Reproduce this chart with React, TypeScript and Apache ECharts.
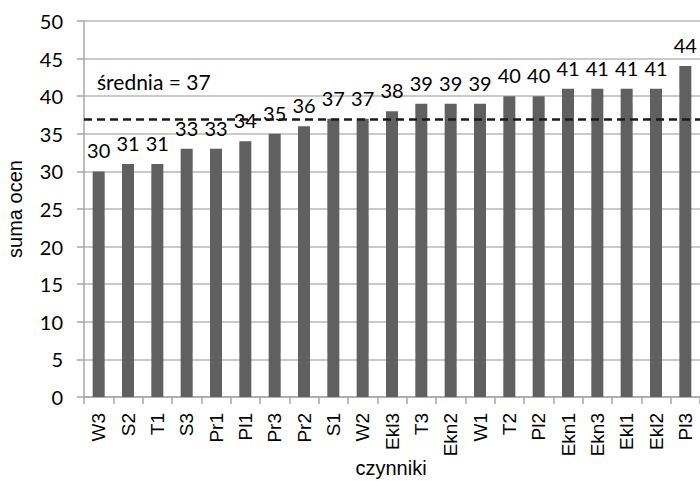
import React, { useEffect, useRef } from "react";
import * as echarts from "echarts";

const categories = ["W3", "S2", "T1", "S3", "Pr1", "Pl1", "Pr3", "Pr2", "S1", "W2", "Ekl3", "T3", "Ekn2", "W1", "T2", "Pl2", "Ekn1", "Ekn3", "Ekl1", "Ekl2", "Pl3"];
const values = [30, 31, 31, 33, 33, 34, 35, 36, 37, 37, 38, 39, 39, 39, 40, 40, 41, 41, 41, 41, 44];
const meanValue = 37;
const meanLabel = "średnia = 37";
const xAxisName = "czynniki";
const yAxisName = "suma ocen";

export default function App() {
  const ref = useRef<HTMLDivElement>(null);
  useEffect(() => {
    if (!ref.current) return;
    const chart = echarts.init(ref.current, null, { renderer: "svg" });
    chart.setOption({
      animation: false,
      backgroundColor: "#ffffff",
      grid: { left: 84, right: 0, top: 21, bottom: 84, containLabel: false, outerBoundsMode: "none" },
      graphic: [
        {
          type: "text",
          left: 97,
          top: 71,
          style: { text: meanLabel, font: "21px Lato", fill: "#000000" },
        },
        {
          type: "text",
          x: 391,
          y: 468,
          style: { text: xAxisName, font: "20px 'Liberation Sans'", fill: "#000000", align: "center", verticalAlign: "middle" },
        },
      ],
      xAxis: {
        type: "category",
        data: categories,
        axisLine: { lineStyle: { color: "#a6a6a6", width: 1.5 } },
        axisTick: { show: true, length: 7, lineStyle: { color: "#a6a6a6", width: 1.5 } },
        axisLabel: { rotate: 90, margin: 16, fontFamily: "Liberation Sans", fontSize: 19, color: "#000", interval: 0 },
      },
      yAxis: {
        type: "value",
        min: 0,
        max: 50,
        interval: 5,
        name: yAxisName,
        nameLocation: "middle",
        nameGap: 59,
        nameRotate: 90,
        nameTextStyle: { fontFamily: "Liberation Sans", fontSize: 20, color: "#000" },
        axisLine: { show: true, lineStyle: { color: "#a6a6a6", width: 1.5 } },
        axisTick: { show: true, length: 7, lineStyle: { color: "#a6a6a6", width: 1.5 } },
        axisLabel: { margin: 21, fontFamily: "Lato", fontSize: 20, color: "#000" },
        splitLine: { show: true, lineStyle: { color: "#b8b8b8", width: 1.5 } },
      },
      series: [
        {
          type: "bar",
          data: values,
          barWidth: 12,
          itemStyle: { color: "#606060" },
          label: { show: true, position: "top", distance: 11, fontFamily: "Lato", fontSize: 20, color: "#000" },
          markLine: {
            silent: true,
            symbol: "none",
            label: { show: false },
            lineStyle: { color: "#1a1a1a", width: 2.5, type: [8, 5] },
            data: [{ yAxis: meanValue }],
          },
        },
      ],
    });
    return () => chart.dispose();
  }, []);
  return <div ref={ref} style={{ width: 700, height: 481, position: "absolute", left: 0, top: 0 }} />;
}
